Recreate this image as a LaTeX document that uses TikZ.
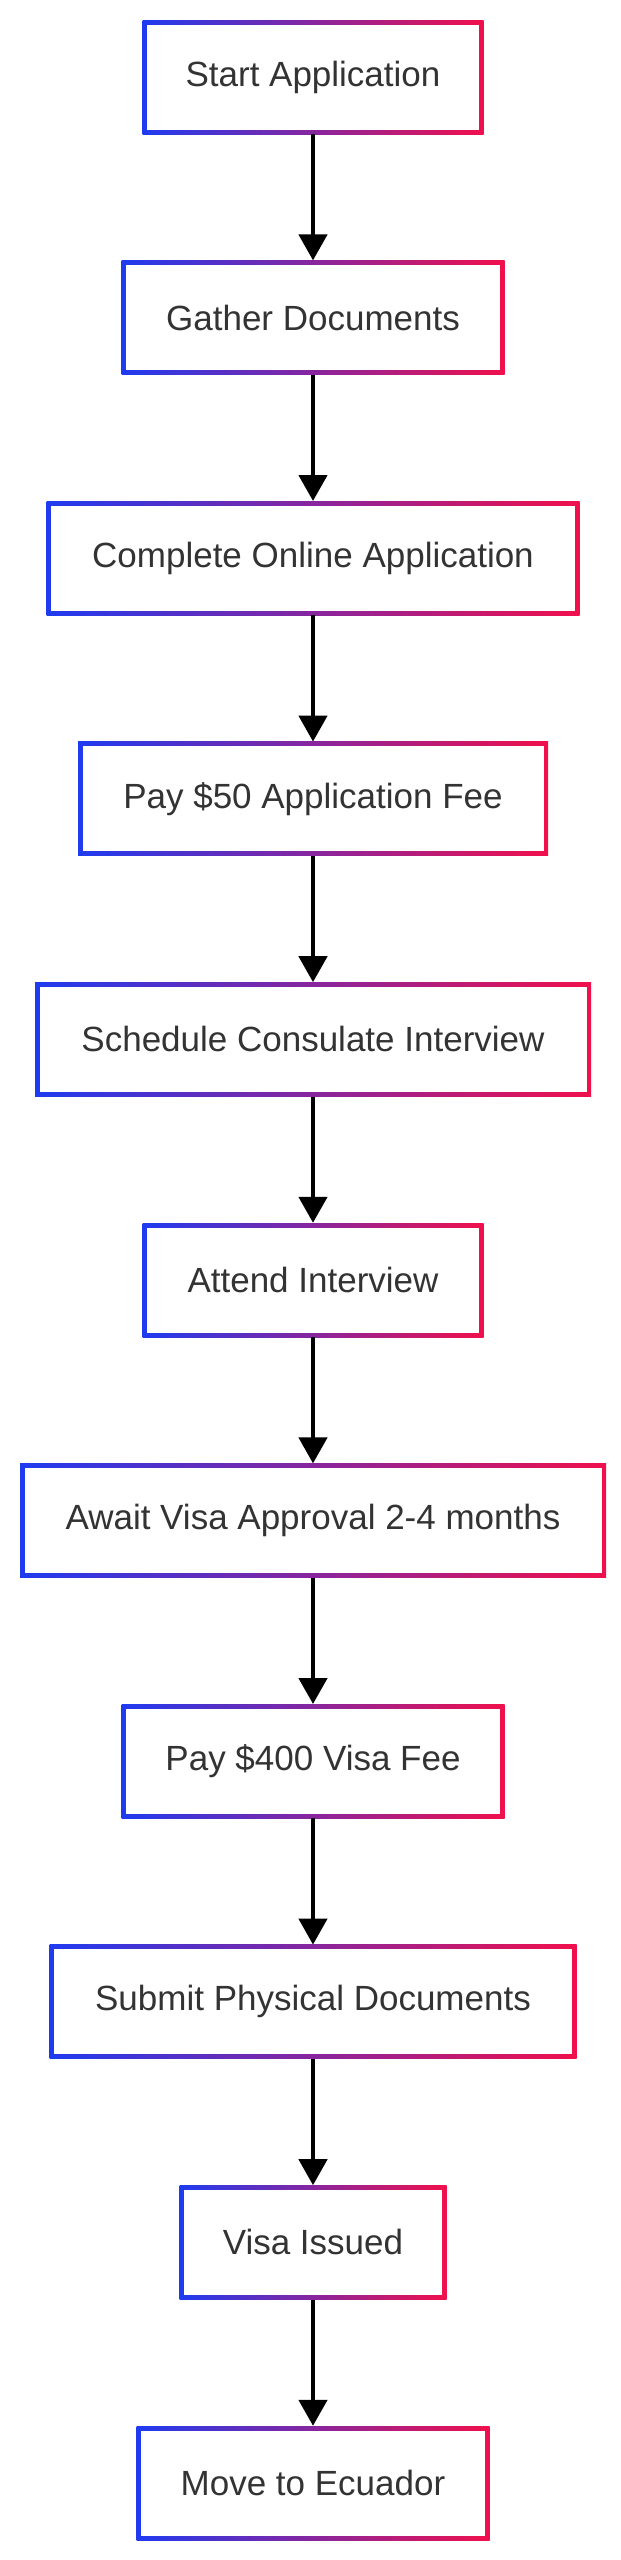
\documentclass[tikz,border=0pt]{standalone}
\usepackage{fontspec}
\setmainfont{Liberation Sans}
\usetikzlibrary{arrows.meta}
\definecolor{gb}{HTML}{1F3BF0}
\definecolor{gr}{HTML}{F0104C}
\definecolor{tx}{HTML}{333333}
\tikzset{
  stepbox/.style={rectangle, minimum height=114pt, inner sep=0pt, text=tx,
    font=\fontsize{35}{40}\selectfont,
    path picture={
      \shade[left color=gb, right color=gr] (path picture bounding box.south west) rectangle (path picture bounding box.north east);
      \fill[white] ([shift={(4.5,4.5)}]path picture bounding box.south west) rectangle ([shift={(-4.5,-4.5)}]path picture bounding box.north east);
    }},
  flow/.style={line width=4.5pt, -{Triangle[length=26pt,width=28pt]}}
}
\begin{document}
\begin{tikzpicture}[x=1pt,y=1pt]
\useasboundingbox (0,0) rectangle (621,-2560);
\node[stepbox, minimum width=341] (n1) at (313,-77) {Start Application};
\node[stepbox, minimum width=383] (n2) at (313,-317.6) {Gather Documents};
\node[stepbox, minimum width=533] (n3) at (313,-558.2) {Complete Online Application};
\node[stepbox, minimum width=470] (n4) at (313,-798.8) {Pay \$50 Application Fee};
\node[stepbox, minimum width=556] (n5) at (313,-1039.4) {Schedule Consulate Interview};
\node[stepbox, minimum width=341] (n6) at (313,-1280) {Attend Interview};
\node[stepbox, minimum width=586] (n7) at (313,-1520.6) {Await Visa Approval 2-4 months};
\node[stepbox, minimum width=383] (n8) at (313,-1761.2) {Pay \$400 Visa Fee};
\node[stepbox, minimum width=527] (n9) at (313,-2001.8) {Submit Physical Documents};
\node[stepbox, minimum width=267] (n10) at (313,-2242.4) {Visa Issued};
\node[stepbox, minimum width=353] (n11) at (313,-2483) {Move to Ecuador};
\foreach \a/\b in {n1/n2,n2/n3,n3/n4,n4/n5,n5/n6,n6/n7,n7/n8,n8/n9,n9/n10,n10/n11}
  \draw[flow] (\a.south) -- (\b.north);
\end{tikzpicture}
\end{document}
